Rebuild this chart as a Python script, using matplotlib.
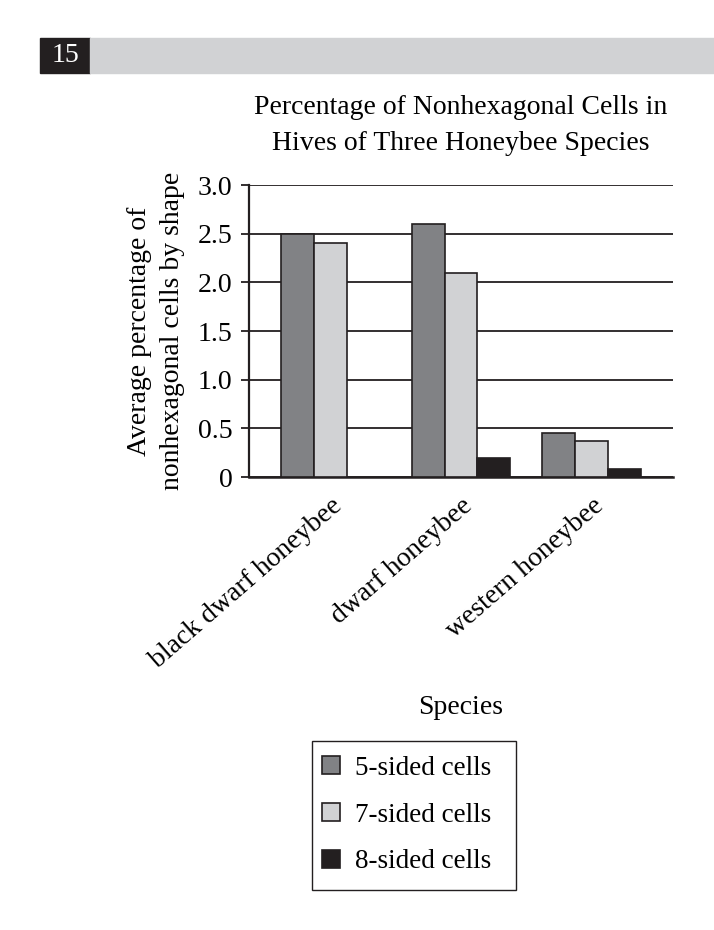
import numpy as np
import matplotlib.pyplot as plt
from matplotlib.patches import Rectangle

# Chart data
species = ["black dwarf honeybee", "dwarf honeybee", "western honeybee"]
series = ["5-sided cells", "7-sided cells", "8-sided cells"]
five_sided = [2.5, 2.6, 0.45]
seven_sided = [2.4, 2.1, 0.37]
eight_sided = [0.0, 0.2, 0.08]
y_ticks = [0, 0.5, 1.0, 1.5, 2.0, 2.5, 3.0]
y_tick_labels = ["0", "0.5", "1.0", "1.5", "2.0", "2.5", "3.0"]

COLORS = ["#818285", "#d1d2d4", "#231f20"]
FONT = "Liberation Serif"

plt.rcParams["font.family"] = [FONT, "DejaVu Serif"]

W, H = 714, 930
fig = plt.figure(figsize=(W / 100, H / 100), dpi=100)


def fig_box(left, top, right, bottom, **kw):
    # rectangle given in pixel coords (origin top-left)
    return Rectangle((left / W, 1 - bottom / H), (right - left) / W,
                     (bottom - top) / H, transform=fig.transFigure, **kw)


# header strip with question number
fig.patches.append(fig_box(40, 38, 90, 73, color="#231f20"))
fig.patches.append(fig_box(90, 38, 714, 73, color="#d1d2d4"))
fig.text(65 / W, 1 - 56 / H, "15", color="white", fontsize=20,
         ha="center", va="center")

ax = fig.add_axes([249 / W, 453 / H, 424 / W, 292 / H])

x = np.arange(len(species))
w = 0.252
values = [five_sided, seven_sided, eight_sided]
for i, (vals, name) in enumerate(zip(values, series)):
    xs = x + (i - 1) * w
    hs = np.array(vals)
    keep = hs > 0
    ax.bar(xs[keep], hs[keep], width=w, color=COLORS[i], edgecolor="#231f20",
           linewidth=1.2, zorder=3, label=name)

ax.set_xlim(-0.622, 2.622)
ax.set_ylim(0, 3.0)
ax.set_yticks(y_ticks)
ax.set_yticklabels(y_tick_labels)
ax.set_xticks(x)
ax.set_xticklabels(species, rotation=41, ha="right", rotation_mode="anchor")

for y in y_ticks:
    ax.axhline(y, color="#231f20", linewidth=1.3, zorder=1)

for s in ["top", "right"]:
    ax.spines[s].set_visible(False)
ax.spines["left"].set_linewidth(1.6)
ax.spines["bottom"].set_linewidth(1.8)
ax.spines["left"].set_color("#231f20")
ax.spines["bottom"].set_color("#231f20")
ax.tick_params(axis="y", direction="out", length=6, width=1.3,
               color="#231f20", pad=6, labelsize=20)
ax.tick_params(axis="x", length=0, pad=12, labelsize=20)

ax.set_title("Percentage of Nonhexagonal Cells in\nHives of Three Honeybee Species",
             fontsize=20, pad=25, linespacing=1.6)
ax.set_ylabel("Average percentage of\nnonhexagonal cells by shape",
              fontsize=20, labelpad=9, linespacing=1.4)
fig.text(461 / W, 1 - 708 / H, "Species", fontsize=20,
         ha="center", va="center")

# legend: frame drawn separately so it can sit off-centre like the original
fig.patches.append(fig_box(312, 741, 516, 890, fill=False,
                           edgecolor="#231f20", linewidth=1.0))
handles, labels = ax.get_legend_handles_labels()
leg = fig.legend(handles, labels, loc="center left",
                 bbox_to_anchor=(322 / W, 1 - 815 / H),
                 frameon=False, fontsize=19.5, handlelength=0.66,
                 handleheight=0.66, handletextpad=0.55, labelspacing=0.8,
                 borderpad=0, borderaxespad=0)

fig.savefig("out.png", dpi=100, facecolor="white")
